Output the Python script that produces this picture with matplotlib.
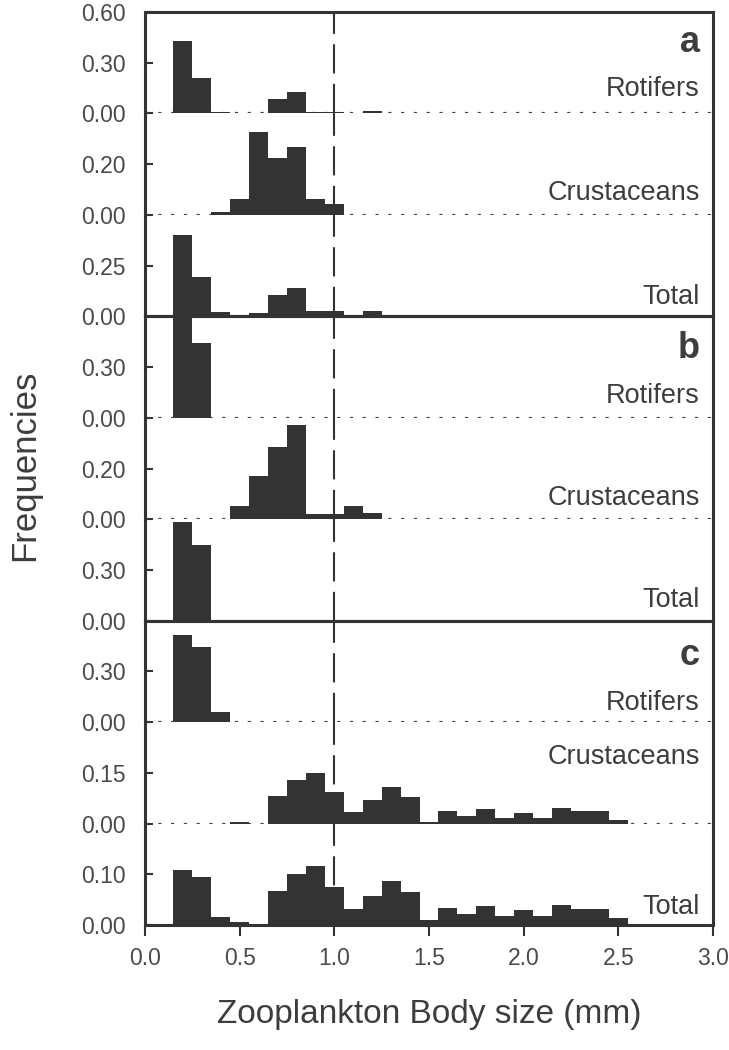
import matplotlib
matplotlib.use("Agg")
import matplotlib.pyplot as plt

plt.rcParams['font.family'] = ['Liberation Sans', 'DejaVu Sans']

# Body-size classes (bin centres, mm), bin width 0.1 mm
size_bins = [0.2, 0.3, 0.4, 0.5, 0.6, 0.7, 0.8, 0.9, 1.0, 1.1, 1.2, 1.3,
             1.4, 1.5, 1.6, 1.7, 1.8, 1.9, 2.0, 2.1, 2.2, 2.3, 2.4, 2.5]
bin_width = 0.1

# Panel a
a_rotifers = [0.43, 0.21, 0.01, 0, 0, 0.085, 0.125, 0.01, 0.01, 0, 0.012, 0,
              0, 0, 0, 0, 0, 0, 0, 0, 0, 0, 0, 0]
a_crustaceans = [0, 0, 0.01, 0.062, 0.328, 0.223, 0.269, 0.062, 0.041, 0, 0, 0,
                 0, 0, 0, 0, 0, 0, 0, 0, 0, 0, 0, 0]
a_total = [0.40, 0.196, 0.02, 0.004, 0.014, 0.104, 0.139, 0.026, 0.026, 0.005, 0.024, 0,
           0, 0, 0, 0, 0, 0, 0, 0, 0, 0, 0, 0]
# Panel b
b_rotifers = [0.59, 0.44, 0, 0, 0, 0, 0, 0, 0, 0, 0, 0,
              0, 0, 0, 0, 0, 0, 0, 0, 0, 0, 0, 0]
b_crustaceans = [0, 0, 0, 0.052, 0.169, 0.285, 0.373, 0.019, 0.019, 0.053, 0.023, 0,
                 0, 0, 0, 0, 0, 0, 0, 0, 0, 0, 0, 0]
b_total = [0.586, 0.445, 0, 0, 0, 0, 0, 0, 0, 0, 0, 0,
           0, 0, 0, 0, 0, 0, 0, 0, 0, 0, 0, 0]
# Panel c
c_rotifers = [0.516, 0.447, 0.059, 0, 0, 0, 0, 0, 0, 0, 0, 0,
              0, 0, 0, 0, 0, 0, 0, 0, 0, 0, 0, 0]
c_crustaceans = [0, 0, 0, 0.006, 0, 0.082, 0.128, 0.15, 0.092, 0.034, 0.069, 0.107,
                 0.079, 0.005, 0.036, 0.021, 0.044, 0.015, 0.031, 0.017, 0.047, 0.036, 0.036, 0.01]
c_total = [0.109, 0.094, 0.015, 0.006, 0, 0.067, 0.101, 0.117, 0.074, 0.031, 0.058, 0.087,
           0.065, 0.01, 0.033, 0.021, 0.038, 0.018, 0.029, 0.018, 0.04, 0.031, 0.031, 0.013]

panel_letters = ['a', 'b', 'c']
group_names = ['Rotifers', 'Crustaceans', 'Total']
series = [[a_rotifers, a_crustaceans, a_total],
          [b_rotifers, b_crustaceans, b_total],
          [c_rotifers, c_crustaceans, c_total]]
y_max = [[0.6, 0.4, 0.5], [0.6, 0.4, 0.6], [0.6, 0.3, 0.2]]
y_mid = [[0.30, 0.20, 0.25], [0.30, 0.20, 0.30], [0.30, 0.15, 0.10]]
label_y = [[0.24, 0.22, 0.19], [0.21, 0.21, 0.20], [0.19, 0.66, 0.18]]
letter_y = [0.70, 0.68, 0.66]

x_ticks = [0.0, 0.5, 1.0, 1.5, 2.0, 2.5, 3.0]
ref_size = 1.0

ink = '#333333'
txt = '#3d3d3d'
tick_txt = '#4a4a4a'

fig = plt.figure(figsize=(7.29, 10.5), dpi=100)
left, right = 145 / 729, 713 / 729
top, bottom = 1 - 12 / 1050, 1 - 925 / 1050
row_h = (top - bottom) / 9

row = 0
for p in range(3):
    for g in range(3):
        y0 = top - (row + 1) * row_h
        ax = fig.add_axes([left, y0, right - left, row_h])
        vals = series[p][g]
        xs = [x for x, v in zip(size_bins, vals) if v > 0]
        vs = [v for v in vals if v > 0]
        ax.bar(xs, vs, width=bin_width, color=ink, linewidth=0, zorder=3)
        ax.set_xlim(0, 3.0)
        ax.set_ylim(0, y_max[p][g])
        ticks = [0.0, y_mid[p][g]]
        if row == 0:
            ticks.append(y_max[p][g])
        ax.set_yticks(ticks)
        ax.set_yticklabels(['%.2f' % t for t in ticks])
        ax.tick_params(axis='y', direction='in', length=6, width=1.5,
                       labelsize=16.5, labelcolor=tick_txt, color=ink, pad=14)
        for s in ax.spines.values():
            s.set_linewidth(2.2)
            s.set_color(ink)
        if g != 0:
            ax.spines['top'].set_visible(False)
        if g != 2:
            ax.spines['bottom'].set_visible(False)
            ax.axhline(0, color='#444444', linestyle=(0, (1, 3)), linewidth=2.3, zorder=2)
        ax.axvline(ref_size, color=ink, linestyle=(0, (14, 5)), linewidth=1.5, zorder=4)
        ax.text(0.977, label_y[p][g], group_names[g], transform=ax.transAxes,
                ha='right', va='center', fontsize=19.5, color=txt)
        if g == 0:
            ax.text(0.977, letter_y[p], panel_letters[p], transform=ax.transAxes,
                    ha='right', va='center', fontsize=26, fontweight='bold', color=txt)
        if row == 8:
            ax.set_xticks(x_ticks)
            ax.set_xticklabels(['%.1f' % t for t in x_ticks])
            ax.tick_params(axis='x', direction='out', length=8, width=1.5,
                           labelsize=16.5, labelcolor=tick_txt, color=ink, pad=8)
        else:
            ax.set_xticks([])
        ax.patch.set_alpha(0)
        row += 1

fig.text(25 / 729, 1 - 465 / 1050, 'Frequencies', rotation=90, ha='center', va='center',
         fontsize=25, color=txt)
fig.text(429 / 729, 1 - 1015 / 1050, 'Zooplankton Body size (mm)', ha='center', va='center',
         fontsize=24, color=txt)

fig.savefig('out.png', dpi=100)
